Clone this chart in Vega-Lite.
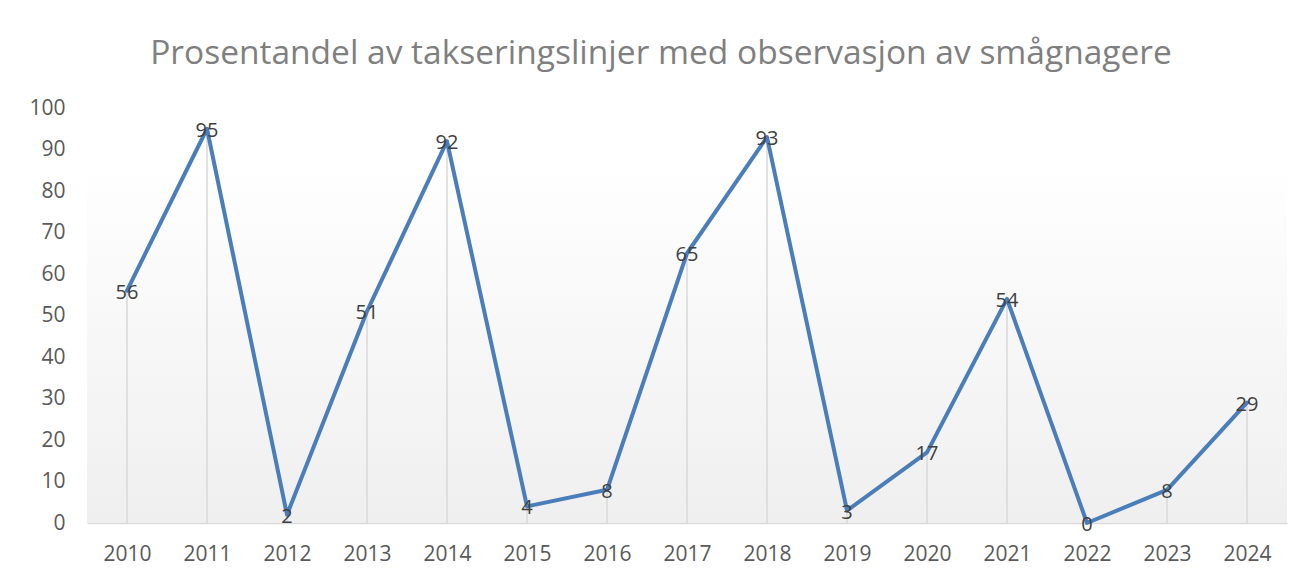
{
  "$schema": "https://vega.github.io/schema/vega-lite/v6.json",
  "width": 1200,
  "height": 415,
  "autosize": {"type": "none"},
  "padding": {"left": 87, "top": 108, "right": 21, "bottom": 55},
  "background": "#ffffff",
  "title": {
    "text": "Prosentandel av takseringslinjer med observasjon av  smågnagere",
    "font": "Open Sans",
    "fontSize": 33.5,
    "fontWeight": "normal",
    "color": "#7f7f7f",
    "anchor": "middle",
    "dx": -26,
    "offset": 26
  },
  "config": {
    "view": {"stroke": null},
    "font": "Open Sans"
  },
  "data": {
    "values": [
      {"year": "2010", "value": 56},
      {"year": "2011", "value": 95},
      {"year": "2012", "value": 2},
      {"year": "2013", "value": 51},
      {"year": "2014", "value": 92},
      {"year": "2015", "value": 4},
      {"year": "2016", "value": 8},
      {"year": "2017", "value": 65},
      {"year": "2018", "value": 93},
      {"year": "2019", "value": 3},
      {"year": "2020", "value": 17},
      {"year": "2021", "value": 54},
      {"year": "2022", "value": 0},
      {"year": "2023", "value": 8},
      {"year": "2024", "value": 29}
    ]
  },
  "encoding": {
    "x": {
      "field": "year",
      "type": "ordinal",
      "scale": {"type": "point", "padding": 0.5},
      "axis": {
        "title": null,
        "labelAngle": 0,
        "labelFont": "Open Sans",
        "labelFontSize": 21,
        "labelColor": "#595959",
        "labelPadding": 20,
        "ticks": false,
        "domainColor": "#d9d9d9",
        "domainWidth": 1.5,
        "grid": false
      }
    },
    "y": {
      "field": "value",
      "type": "quantitative",
      "scale": {"domain": [0, 100], "nice": false},
      "axis": {
        "title": null,
        "values": [0, 10, 20, 30, 40, 50, 60, 70, 80, 90, 100],
        "labelFont": "Open Sans",
        "labelFontSize": 21,
        "labelColor": "#595959",
        "labelPadding": 22,
        "ticks": false,
        "domain": false,
        "grid": false
      }
    }
  },
  "layer": [
    {
      "data": {"values": [{"top": 88, "bottom": 0}]},
      "mark": {
        "type": "rect",
        "fill": {
          "gradient": "linear",
          "x1": 0, "y1": 0, "x2": 0, "y2": 1,
          "stops": [
            {"offset": 0, "color": "#ffffff"},
            {"offset": 1, "color": "#efefef"}
          ]
        },
        "stroke": null
      },
      "encoding": {
        "x": null,
        "y": {"field": "top", "type": "quantitative"},
        "y2": {"field": "bottom"}
      }
    },
    {
      "mark": {"type": "rule", "color": "#d9d9d9", "strokeWidth": 1.5},
      "encoding": {
        "y2": {"datum": 0}
      }
    },
    {
      "mark": {"type": "line", "color": "#4a7ebb", "strokeWidth": 4, "strokeJoin": "round", "strokeCap": "round"}
    },
    {
      "mark": {"type": "text", "font": "Open Sans", "fontSize": 20, "color": "#404040", "align": "center", "baseline": "middle", "dy": 2},
      "encoding": {"text": {"field": "value", "type": "quantitative"}}
    }
  ]
}
